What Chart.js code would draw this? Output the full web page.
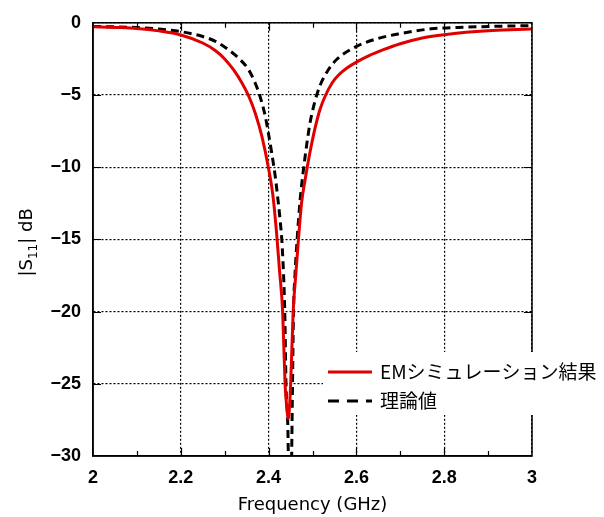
<!DOCTYPE html>
<html>
<head>
<meta charset="utf-8">
<script src="https://cdn.jsdelivr.net/npm/chart.js@4.4.1/dist/chart.umd.min.js"></script>
<style>
  html, body { margin: 0; padding: 0; background: #fff; }
  #wrap { width: 604px; height: 517px; }
</style>
</head>
<body>
<div id="wrap"><canvas id="s11Chart"></canvas></div>
<script>
// ----- Data -----
const emFreq = [2.00, 2.05, 2.10, 2.15, 2.20, 2.25, 2.28, 2.30, 2.32, 2.34, 2.355, 2.37,
  2.385, 2.40, 2.41, 2.418, 2.425, 2.432, 2.4375, 2.442, 2.445, 2.448,
  2.4503, 2.456, 2.462, 2.468, 2.475, 2.483, 2.494, 2.505, 2.517, 2.53, 2.545, 2.56, 2.58,
  2.60, 2.63, 2.66, 2.70, 2.75, 2.80, 2.85, 2.90, 2.95, 3.00];
const emDb = [-0.27, -0.32, -0.39, -0.56, -0.84, -1.4, -1.95, -2.5, -3.25, -4.2, -5.1, -6.3,
  -7.9, -10.1, -12.0, -14.5, -17.2, -20.0, -25.0, -26.8, -27.4, -26.4,
  -25.0, -20.0, -17.4, -15.0, -12.5, -10.9, -9.0, -7.4, -6.0, -5.0, -4.15, -3.6, -3.1,
  -2.72, -2.25, -1.88, -1.45, -1.05, -0.82, -0.66, -0.55, -0.48, -0.43];

const thFreq = [2.00, 2.05, 2.10, 2.15, 2.20, 2.25, 2.28, 2.3083, 2.335, 2.354, 2.369, 2.380,
  2.392, 2.399, 2.407, 2.415, 2.420, 2.426, 2.431, 2.437, 2.4396, 2.4449, 2.4485, 2.4526,
  2.4545, 2.4567, 2.460, 2.465, 2.472, 2.4754, 2.483, 2.494, 2.505, 2.517, 2.535, 2.555,
  2.60, 2.65, 2.70, 2.77, 2.85, 2.92, 3.00];
const thDb = [-0.25, -0.28, -0.33, -0.43, -0.61, -0.95, -1.3, -1.86, -2.54, -3.23, -4.14, -5.05,
  -6.41, -7.55, -9.0, -10.6, -11.9, -13.6, -15.5, -20.3, -25.0, -30.0, -45.0, -30.0,
  -25.0, -20.0, -17.5, -15.0, -12.2, -11.2, -9.3, -7.0, -5.5, -4.36, -3.3, -2.54,
  -1.64, -1.08, -0.75, -0.42, -0.3, -0.24, -0.2];

const xMajorTicks = [2, 2.2, 2.4, 2.6, 2.8, 3];
const xMinorTicks = [2.1, 2.3, 2.5, 2.7, 2.9];
const yTicks = [0, -5, -10, -15, -20, -25, -30];

const seriesLabels = ["EMシミュレーション結果", "理論値"];
const xTitle = "Frequency (GHz)";

const JP_FONT = '"Noto Sans CJK JP", "DejaVu Sans", sans-serif';
const NUM_FONT = '"Liberation Sans", Arial, sans-serif';
const TITLE_FONT = '"DejaVu Sans", sans-serif';

const pts = (xs, ys) => xs.map((x, i) => ({ x, y: ys[i] }));
const minus = (v) => (v < 0 ? "\u2212" + Math.abs(v) : String(v));
const isMajor = (v) => xMajorTicks.some((m) => Math.abs(m - v) < 1e-6);

// ----- Frame, inward ticks, legend, y title -----
const decorPlugin = {
  id: "decor",
  afterDraw(chart) {
    const { ctx, chartArea: { left, right, top, bottom }, scales: { x, y } } = chart;
    ctx.save();

    // frame
    ctx.strokeStyle = "#000";
    ctx.lineWidth = 1.5;
    ctx.setLineDash([]);
    ctx.strokeRect(left, top, right - left, bottom - top);

    // inward ticks
    ctx.lineWidth = 1.2;
    const vTick = (v, len) => {
      const px = Math.round(x.getPixelForValue(v)) + 0.5;
      ctx.beginPath();
      ctx.moveTo(px, bottom); ctx.lineTo(px, bottom - len);
      ctx.moveTo(px, top); ctx.lineTo(px, top + len);
      ctx.stroke();
    };
    xMinorTicks.forEach((v) => vTick(v, 5));
    xMajorTicks.slice(1, -1).forEach((v) => vTick(v, 8));
    yTicks.slice(1, -1).forEach((v) => {
      const py = Math.round(y.getPixelForValue(v)) + 0.5;
      ctx.beginPath();
      ctx.moveTo(left, py); ctx.lineTo(left + 8, py);
      ctx.moveTo(right, py); ctx.lineTo(right - 8, py);
      ctx.stroke();
    });

    // legend
    ctx.fillStyle = "#fff";
    ctx.fillRect(323, 352, 604 - 323, 63);
    const rows = [372, 401];
    chart.data.datasets.forEach((ds, i) => {
      const ly = rows[i];
      ctx.strokeStyle = ds.borderColor;
      ctx.lineWidth = ds.borderWidth;
      ctx.setLineDash(i === 1 ? [11, 8] : []);
      ctx.beginPath();
      ctx.moveTo(328, ly); ctx.lineTo(372, ly);
      ctx.stroke();
      ctx.setLineDash([]);
      ctx.fillStyle = "#000";
      ctx.font = "19px " + JP_FONT;
      ctx.textAlign = "left";
      ctx.textBaseline = "middle";
      ctx.fillText(ds.label, 380, ly);
    });

    // y-axis title with subscript
    ctx.translate(26, (top + bottom) / 2 + 3);
    ctx.rotate(-Math.PI / 2);
    ctx.fillStyle = "#000";
    ctx.textBaseline = "alphabetic";
    const big = "18px " + TITLE_FONT, small = "12px " + TITLE_FONT;
    const parts = [
      { t: "|S", f: big, dy: 0 },
      { t: "11", f: small, dy: 5 },
      { t: "| dB", f: big, dy: 0 }
    ];
    let total = 0;
    parts.forEach((p) => { ctx.font = p.f; p.w = ctx.measureText(p.t).width; total += p.w; });
    let cx = -total / 2;
    parts.forEach((p) => {
      ctx.font = p.f;
      ctx.fillText(p.t, cx, 6 + p.dy);
      cx += p.w;
    });

    ctx.restore();
  }
};

// ----- Chart -----
const ctx = document.getElementById("s11Chart").getContext("2d");
const chart = new Chart(ctx, {
  type: "line",
  data: {
    datasets: [
      {
        label: seriesLabels[0],
        data: pts(emFreq, emDb),
        borderColor: "#e00000",
        borderWidth: 3,
        pointRadius: 0,
        cubicInterpolationMode: "monotone",
        clip: 0,
        fill: false
      },
      {
        label: seriesLabels[1],
        data: pts(thFreq, thDb),
        borderColor: "#000",
        borderWidth: 3,
        borderDash: [8, 5],
        pointRadius: 0,
        cubicInterpolationMode: "monotone",
        clip: 0,
        fill: false
      }
    ]
  },
  options: {
    animation: false,
    responsive: true,
    maintainAspectRatio: false,
    layout: { padding: { top: 16, right: 72, left: 0, bottom: 0 } },
    plugins: { legend: { display: false }, tooltip: { enabled: false } },
    scales: {
      x: {
        type: "linear",
        min: 2,
        max: 3,
        afterFit(scale) { scale.height = 61; },
        afterBuildTicks(scale) {
          scale.ticks = [...xMajorTicks, ...xMinorTicks].sort((a, b) => a - b).map((v) => ({ value: v }));
        },
        ticks: {
          color: "#000",
          padding: 11,
          maxRotation: 0,
          autoSkip: false,
          font: { family: NUM_FONT, size: 18, weight: "bold" },
          callback: (v) => (isMajor(v) ? String(+v.toFixed(1)) : "")
        },
        grid: {
          drawTicks: false,
          color: (c) => (isMajor(c.tick.value) ? "#000" : "rgba(0,0,0,0)"),
          lineWidth: 1.2
        },
        border: { display: true, color: "#000", width: 1.5, dash: [2, 2] },
        title: {
          display: true,
          text: xTitle,
          color: "#000",
          font: { family: TITLE_FONT, size: 18 },
          padding: { top: 0, bottom: 1 }
        }
      },
      y: {
        min: -30,
        max: 0,
        afterFit(scale) { scale.width = 93; },
        afterBuildTicks(scale) {
          scale.ticks = yTicks.map((v) => ({ value: v }));
        },
        ticks: {
          color: "#000",
          padding: 12,
          font: { family: NUM_FONT, size: 18, weight: "bold" },
          callback: (v) => minus(v)
        },
        grid: { drawTicks: false, color: "#000", lineWidth: 1.2 },
        border: { display: true, color: "#000", width: 1.5, dash: [2, 2] }
      }
    }
  },
  plugins: [decorPlugin]
});
</script>
</body>
</html>
